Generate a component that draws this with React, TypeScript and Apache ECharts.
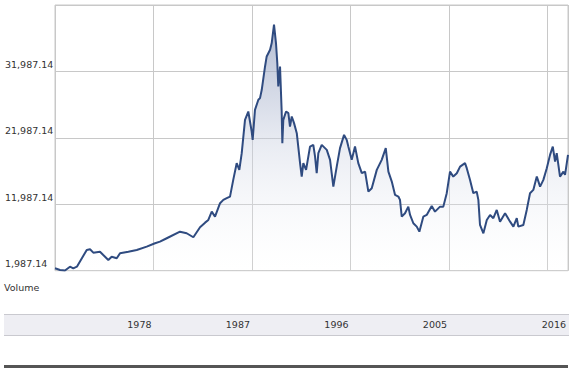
import React, { useEffect, useRef } from "react";
import * as echarts from "echarts";

// Decimal years of each reading
const years: number[] = [
  1970.0, 1970.46, 1970.91, 1971.37, 1971.67, 1972.0, 1972.9, 1973.2, 1973.5, 1974.11,
  1974.41, 1974.87, 1975.18, 1975.64, 1975.94, 1976.7, 1977.47, 1978.38, 1979.14, 1979.59,
  1980.21, 1981.42, 1982.03, 1982.64, 1983.25, 1983.71, 1984.01, 1984.32, 1984.62, 1985.08,
  1985.38, 1985.69, 1985.99, 1986.29, 1986.6, 1986.84, 1987.06, 1987.36, 1987.66, 1987.97,
  1988.06, 1988.27, 1988.58, 1988.73, 1988.89, 1989.19, 1989.34, 1989.65, 1989.8, 1990.01,
  1990.19, 1990.31, 1990.4, 1990.56, 1990.71, 1990.77, 1990.86, 1991.11, 1991.32, 1991.47,
  1991.63, 1991.84, 1992.09, 1992.39, 1992.54, 1992.69, 1992.94, 1993.3, 1993.6, 1993.76,
  1993.91, 1994.06, 1994.37, 1994.83, 1995.13, 1995.43, 1995.74, 1996.04, 1996.41, 1996.65,
  1996.8, 1997.11, 1997.41, 1997.71, 1998.03, 1998.33, 1998.63, 1998.94, 1999.4, 1999.85,
  2000.22, 2000.46, 2000.77, 2001.07, 2001.37, 2001.52, 2001.68, 2001.98, 2002.28, 2002.44,
  2002.74, 2003.05, 2003.29, 2003.65, 2003.96, 2004.42, 2004.72, 2005.18, 2005.48, 2005.79,
  2006.09, 2006.39, 2006.71, 2007.01, 2007.46, 2007.62, 2007.92, 2008.22, 2008.53, 2008.68,
  2008.83, 2009.14, 2009.45, 2009.75, 2010.05, 2010.36, 2010.66, 2011.12, 2011.58, 2011.88,
  2012.19, 2012.33, 2012.79, 2013.1, 2013.4, 2013.7, 2014.02, 2014.32, 2014.62, 2014.93,
  2015.23, 2015.48, 2015.69, 2015.84, 2016.14, 2016.45, 2016.6, 2016.87,
];

// Index level at each reading
const values: number[] = [
  2349, 2093, 2010, 2590, 2349, 2590, 5107, 5213, 4700, 4851,
  4353, 3600, 4097, 3856, 4610, 4851, 5107, 5604, 6117, 6358,
  6870, 7865, 7624, 7021, 8528, 9222, 9629, 10879, 10126, 12146,
  12643, 12899, 13140, 15700, 18174, 17165, 19682, 24701, 25951, 22937,
  21686, 26208, 27715, 27971, 29222, 32734, 34241, 35251, 36261, 39019,
  36261, 33246, 29719, 32734, 25951, 21189, 24701, 25951, 25710, 23691,
  25198, 24203, 22696, 18174, 16155, 18174, 17165, 20676, 20932, 19169,
  16667, 19682, 20932, 20179, 18672, 14647, 17662, 20435, 22440, 21686,
  20676, 18672, 20676, 18174, 16667, 16908, 13894, 14406, 17165, 18672,
  20435, 16908, 15400, 13396, 13150, 12643, 10126, 10638, 11633, 10382,
  9131, 8619, 7865, 10126, 10382, 11739, 10879, 11633, 11633, 13653,
  16908, 16155, 16667, 17662, 18174, 17421, 15657, 13653, 13894, 12643,
  8875, 7624, 9629, 10382, 9885, 11136, 9372, 10638, 9372, 8619,
  9885, 8619, 8875, 11136, 13653, 14150, 16155, 14647, 15657, 17421,
  19425, 20676, 18415, 19682, 16155, 16908, 16411, 19425,
];

// Tick labels shown in the band under the plot (one per x tick)
const xTickLabels: string[] = ["", "1978", "1987", "1996", "2005", "", "2016"];
const xMin = 1970;
const xMax = 2016.87;
const xStep = 9;

const yMin = 1987.14;
const yMax = 41987.14;
const yStep = 10000;

const FONT = "DejaVu Sans";

export default function App() {
  const ref = useRef<HTMLDivElement>(null);

  useEffect(() => {
    if (!ref.current) return;
    const chart = echarts.init(ref.current, undefined, { renderer: "svg" });
    const data = years.map((y, i) => [y, values[i]]);
    chart.setOption({
      animation: false,
      grid: {
        left: 55,
        right: 6,
        top: 5,
        bottom: 100.3,
        show: true,
        borderColor: "#c8c8c8",
        borderWidth: 1,
        backgroundColor: "transparent",
      },
      xAxis: {
        type: "value",
        min: xMin,
        max: xMax,
        interval: xStep,
        axisLine: { show: false },
        axisTick: { show: false },
        splitLine: { show: true, lineStyle: { color: "#c8c8c8", width: 1 } },
        axisLabel: {
          show: true,
          showMinLabel: true,
          showMaxLabel: true,
          margin: 48,
          align: "right",
          padding: [0, 2, 0, 0],
          lineHeight: 12,
          fontSize: 9.5,
          fontFamily: FONT,
          color: "#333",
          formatter: (_v: number, idx: number) => xTickLabels[idx] ?? "",
        },
      },
      yAxis: {
        type: "value",
        min: yMin,
        max: yMax,
        interval: yStep,
        axisLine: { show: false },
        axisTick: { show: false },
        splitLine: { show: true, lineStyle: { color: "#c8c8c8", width: 1 } },
        axisLabel: {
          show: true,
          showMaxLabel: false,
          margin: 50,
          align: "left",
          verticalAlign: "bottom",
          padding: [0, 0, 1, 0],
          lineHeight: 12,
          fontSize: 9.5,
          fontFamily: FONT,
          color: "#333",
          formatter: (v: number) =>
            Number(v).toLocaleString("en-US", {
              minimumFractionDigits: 2,
              maximumFractionDigits: 2,
            }),
        },
      },
      graphic: [
        {
          type: "rect",
          z: -10,
          silent: true,
          shape: { x: 4, y: 314, width: 565, height: 21 },
          style: { fill: "#eeeef3" },
        },
        {
          type: "line",
          z: -9,
          silent: true,
          shape: { x1: 4, y1: 314.5, x2: 569, y2: 314.5 },
          style: { stroke: "#c9c9cf", lineWidth: 1 },
        },
        {
          type: "line",
          z: -9,
          silent: true,
          shape: { x1: 4, y1: 335.5, x2: 569, y2: 335.5 },
          style: { stroke: "#c9c9cf", lineWidth: 1 },
        },
        {
          type: "rect",
          silent: true,
          shape: { x: 4, y: 365, width: 564, height: 3 },
          style: { fill: "#555555" },
        },
        {
          type: "text",
          silent: true,
          x: 4,
          y: 287,
          style: {
            text: "Volume",
            fontSize: 9.5,
            fontFamily: FONT,
            fill: "#333",
            verticalAlign: "middle",
            align: "left",
          },
        },
      ],
      series: [
        {
          type: "line",
          data,
          symbol: "none",
          smooth: false,
          lineStyle: { color: "#2f4b80", width: 2 },
          areaStyle: {
            color: new echarts.graphic.LinearGradient(0, 0, 0, 1, [
              { offset: 0, color: "rgba(125,141,180,0.85)" },
              { offset: 0.5, color: "rgba(205,211,226,0.6)" },
              { offset: 1, color: "rgba(255,255,255,0.2)" },
            ]),
          },
        },
      ],
    });
    return () => chart.dispose();
  }, []);

  return (
    <div
      ref={ref}
      style={{ position: "fixed", left: 0, top: 0, width: 574, height: 371, background: "#fff" }}
    />
  );
}
